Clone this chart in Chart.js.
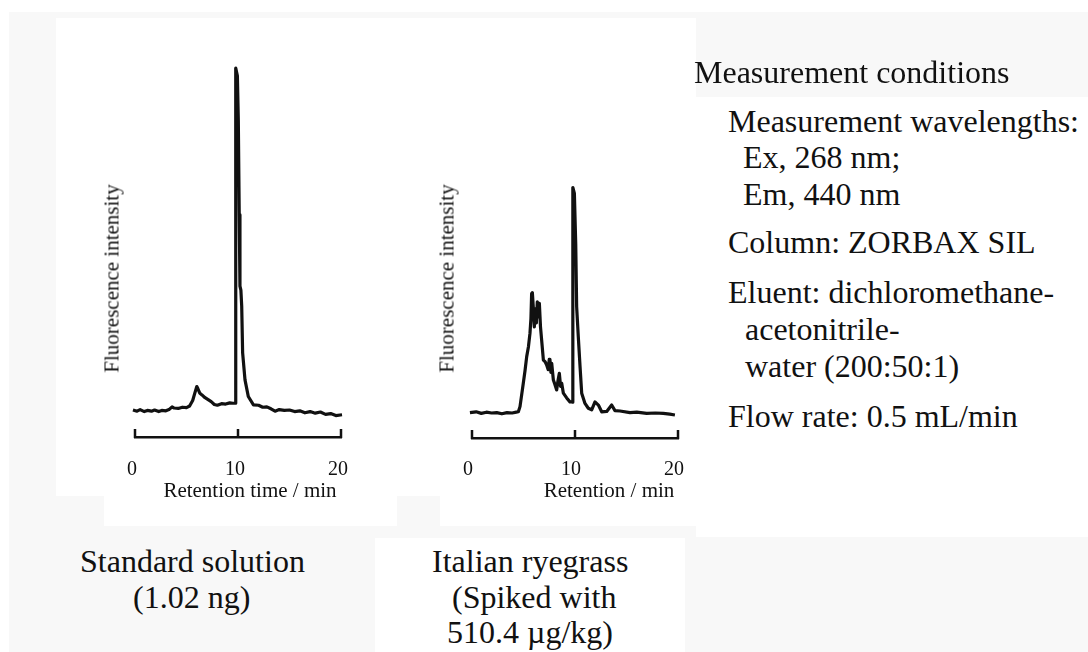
<!DOCTYPE html>
<html>
<head>
<meta charset="utf-8">
<title>Chromatograms</title>
<script src="https://cdn.jsdelivr.net/npm/chart.js@4.4.1/dist/chart.umd.min.js"></script>
<style>
  html, body { margin: 0; padding: 0; background: #fff; }
  body {
    width: 1088px; height: 652px; position: relative; overflow: hidden;
    font-family: "Liberation Serif", "Times New Roman", serif; color: #111;
  }
  .bg { position: absolute; }
  .gray { background: #f8f8f8; }
  .white { background: #fff; }
  canvas { position: absolute; }
  .txt { position: absolute; white-space: pre; line-height: 1; }
  .side { font-size: 32px; }
  .cap { font-size: 32px; }
  .ytitle {
    position: absolute; width: 240px; height: 21px; text-align: center;
    font-size: 21px; line-height: 1; transform: rotate(-90deg);
  }
  .xtitle {
    position: absolute; width: 300px; text-align: center;
    font-size: 21px; line-height: 1; top: 480px;
  }
</style>
</head>
<body>
  <!-- faint panel backgrounds -->
  <div class="bg gray" style="left:9px;top:12px;width:1079px;height:640px"></div>
  <div class="bg white" style="left:56px;top:18px;width:640px;height:478px"></div>
  <div class="bg white" style="left:104px;top:496px;width:293px;height:30px"></div>
  <div class="bg white" style="left:440px;top:496px;width:256px;height:30px"></div>
  <div class="bg white" style="left:696px;top:97px;width:392px;height:440px"></div>
  <div class="bg white" style="left:375px;top:538px;width:310px;height:114px"></div>

  <canvas id="stdChart" width="270" height="482" style="left:90px;top:20px"></canvas>
  <canvas id="ryeChart" width="275" height="483" style="left:425px;top:20px"></canvas>

  <div class="ytitle" style="left:-8px;top:268px">Fluorescence intensity</div>
  <div class="ytitle" style="left:327px;top:268px">Fluorescence intensity</div>
  <div class="xtitle" style="left:100px">Retention time / min</div>
  <div class="xtitle" style="left:459px">Retention / min</div>

  <!-- measurement conditions -->
  <div class="txt side" style="left:694px;top:56px">Measurement conditions</div>
  <div class="txt side" style="left:728px;top:105px">Measurement wavelengths:</div>
  <div class="txt side" style="left:743px;top:141px">Ex, 268 nm;</div>
  <div class="txt side" style="left:743px;top:178px">Em, 440 nm</div>
  <div class="txt side" style="left:728px;top:226px">Column: ZORBAX SIL</div>
  <div class="txt side" style="left:728px;top:276px">Eluent: dichloromethane-</div>
  <div class="txt side" style="left:745px;top:313px">acetonitrile-</div>
  <div class="txt side" style="left:745px;top:350px">water (200:50:1)</div>
  <div class="txt side" style="left:728px;top:400px">Flow rate: 0.5 mL/min</div>

  <!-- captions -->
  <div class="txt cap" style="left:80px;top:545px">Standard solution</div>
  <div class="txt cap" style="left:133px;top:581px">(1.02 ng)</div>
  <div class="txt cap" style="left:432px;top:545px">Italian ryegrass</div>
  <div class="txt cap" style="left:452px;top:581px">(Spiked with</div>
  <div class="txt cap" style="left:447px;top:616px">510.4 µg/kg)</div>

<script>
// retention time (min) and fluorescence signal (arbitrary units, 0-100)
const xTicks = [0, 10, 20];

const stdTime = [-0.2, 0.2, 0.5, 0.9, 1.2, 1.6, 1.9, 2.3, 2.6, 3.0, 3.3, 3.6, 3.8, 4.2, 4.6, 5.0,
  5.3, 5.6, 5.8, 6.0, 6.1, 6.3, 6.5, 6.8, 7.1, 7.4, 7.7, 8.0, 8.4, 8.8, 9.2, 9.5, 9.76, 9.78,
  9.94, 10.03, 10.12, 10.19, 10.28, 10.36, 10.45, 10.68, 11.0, 11.5, 12.0, 12.4, 12.8, 13.2,
  13.6, 14.0, 14.5, 15.0, 15.5, 16.0, 16.5, 17.0, 17.5, 18.0, 18.5, 19.0, 19.5, 20.1];
const stdSignal = [6.8, 6.5, 6.9, 6.4, 6.7, 6.5, 6.8, 6.4, 6.7, 6.6, 6.9, 7.6, 7.3, 7.2, 7.5, 7.4,
  7.8, 9.2, 11.0, 12.7, 12.2, 11.0, 10.6, 9.9, 9.4, 8.9, 8.2, 8.0, 8.4, 8.3, 8.6, 8.5, 8.5, 92.9,
  91.0, 79.8, 56.0, 38.0, 37.0, 33.0, 21.2, 14.4, 10.2, 8.1, 8.0, 7.5, 7.6, 7.1,
  6.5, 6.9, 6.7, 6.8, 6.4, 6.6, 6.1, 6.4, 6.0, 6.3, 5.7, 5.9, 5.4, 5.6];

const ryeTime = [-0.2, 0.4, 0.9, 1.4, 1.9, 2.4, 2.9, 3.4, 3.9, 4.3, 4.5, 4.66, 4.98, 5.15, 5.31,
  5.48, 5.63, 5.72, 5.79, 5.86, 5.95, 6.05, 6.15, 6.25, 6.34, 6.45, 6.54, 6.65, 6.76, 6.93,
  7.1, 7.25, 7.4, 7.5, 7.57, 7.66, 7.74, 7.90, 8.05, 8.22, 8.35, 8.48, 8.6, 8.71, 8.87, 9.19,
  9.51, 9.67, 9.77, 9.79, 9.94, 10.07, 10.16, 10.32, 10.49, 10.65, 10.97, 11.29, 11.62, 11.94,
  12.27, 12.59, 13.08, 13.56, 13.88, 14.37, 15.34, 16.0, 16.96, 17.8, 18.57, 19.2, 19.7];
const ryeSignal = [6.4, 6.6, 6.2, 6.5, 6.3, 6.4, 6.1, 6.4, 6.3, 6.5, 6.6, 7.9, 13.8, 17.0, 20.5,
  23.0, 26.4, 30.0, 36.4, 36.6, 33.0, 28.0, 32.5, 29.0, 34.3, 30.5, 33.9, 28.0, 24.7, 19.6,
  19.2, 18.4, 17.2, 19.8, 19.6, 16.5, 18.8, 14.6, 13.5, 12.1, 14.5, 16.3, 13.0, 13.8, 11.3, 10.1,
  9.1, 9.1, 9.0, 63.1, 61.6, 49.0, 33.1, 25.5, 18.0, 11.3, 8.7, 7.5, 7.1, 9.1,
  8.3, 6.6, 6.7, 8.3, 6.9, 6.8, 6.4, 6.5, 6.2, 6.3, 6.2, 6.0, 5.8];

const FONT = '"Liberation Serif", "Times New Roman", serif';
const INK = '#111';

// tick marks point up from the axis line, like a bracket
const bracketTicks = {
  id: 'bracketTicks',
  afterDraw(chart) {
    const x = chart.scales.x;
    const bottom = chart.chartArea.bottom;
    const ctx = chart.ctx;
    ctx.save();
    ctx.strokeStyle = INK;
    ctx.lineWidth = 2.5;
    ctx.beginPath();
    xTicks.forEach(v => {
      const px = x.getPixelForValue(v);
      ctx.moveTo(px, bottom + 1);
      ctx.lineTo(px, bottom - 8);
    });
    ctx.stroke();
    ctx.restore();
  }
};

function makeChart(id, times, signals, pad, labelOffset, tickPad) {
  return new Chart(document.getElementById(id), {
    type: 'line',
    data: {
      datasets: [{
        data: times.map((t, i) => ({ x: t, y: signals[i] })),
        borderColor: INK,
        borderWidth: 3.2,
        borderJoinStyle: 'round',
        pointRadius: 0,
        tension: 0,
        fill: false,
        clip: false
      }]
    },
    options: {
      responsive: false,
      animation: false,
      events: [],
      layout: { padding: { top: pad.top, left: pad.left, right: pad.right, bottom: 0 } },
      plugins: { legend: { display: false }, tooltip: { enabled: false } },
      scales: {
        x: {
          type: 'linear', min: 0, max: 20,
          grid: { display: false },
          border: { display: true, color: INK, width: 2.5 },
          ticks: {
            stepSize: 10, color: INK, padding: tickPad, labelOffset: labelOffset,
            maxRotation: 0, autoSkip: false, font: { family: FONT, size: 20 }
          },
          afterFit: s => {
            s.height = 65;
            // keep the end labels from shrinking the plot area
            s.paddingLeft = 0;
            s.paddingRight = 0;
          }
        },
        y: { display: false, min: 0, max: 100 }
      }
    },
    plugins: [bracketTicks]
  });
}

makeChart('stdChart', stdTime, stdSignal, { top: 20, left: 45, right: 19 }, -3, 13);
makeChart('ryeChart', ryeTime, ryeSignal, { top: 21, left: 47, right: 22 }, -4, 12);
</script>
</body>
</html>
